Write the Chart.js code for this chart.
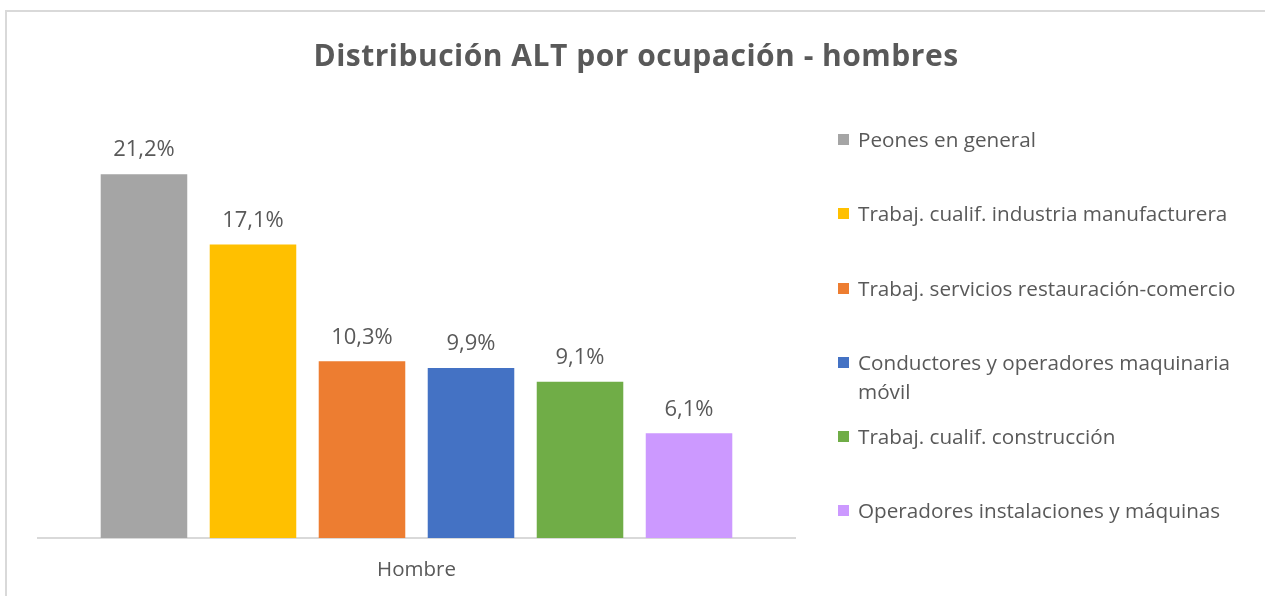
<!DOCTYPE html>
<html>
<head>
<meta charset="utf-8">
<script src="https://cdn.jsdelivr.net/npm/chart.js@4"></script>
<style>
  html, body { margin: 0; padding: 0; background: #fff; overflow: hidden; }
  #wrap { position: relative; width: 1265px; height: 596px; overflow: hidden; }
  #frame { position: absolute; left: 5px; top: 10px; width: 1400px; height: 800px;
           border-left: 2px solid #d9d9d9; border-top: 2px solid #d9d9d9; }
  #chart { position: absolute; left: 0; top: 0; }
  #title { position: absolute; left: 0; width: 1272px; top: 35px; text-align: center;
           font: bold 30px "Open Sans", sans-serif; color: #595959; line-height: 40px;
           letter-spacing: 0.5px; }
  .item { position: absolute; left: 838px; width: 425px; font: 20.7px "Open Sans", sans-serif;
          color: #595959; line-height: 29px; }
  .item .box { position: absolute; left: 0; top: 9px; width: 11px; height: 11px; }
  .item .txt { margin-left: 20px; }
</style>
</head>
<body>
<div id="wrap">
  <div id="frame"></div>
  <canvas id="chart" width="1265" height="596"></canvas>
  <div id="title">Distribución ALT por ocupación - hombres</div>
  <div id="legend"></div>
</div>
<script>
var categories = ['Hombre'];
var seriesNames = [
    'Peones en general',
    'Trabaj. cualif. industria manufacturera',
    'Trabaj. servicios restauración-comercio',
    'Conductores y operadores maquinaria móvil',
    'Trabaj. cualif. construcción',
    'Operadores instalaciones y máquinas'
];
var seriesValues = [21.2, 17.1, 10.3, 9.9, 9.1, 6.1];
var seriesColors = ['#A5A5A5', '#FFC000', '#ED7D31', '#4472C4', '#70AD47', '#CC99FF'];

var datasets = [];
for (var i = 0; i < seriesNames.length; i++) {
    datasets.push({
        label: seriesNames[i],
        data: [seriesValues[i]],
        backgroundColor: seriesColors[i],
        borderWidth: 0,
        barPercentage: 0.794,
        categoryPercentage: 0.864
    });
}

// value labels above each bar
const barLabels = {
    id: 'barLabels',
    afterDatasetsDraw(chart) {
        const ctx = chart.ctx;
        ctx.save();
        ctx.font = '22px "Open Sans", sans-serif';
        ctx.fillStyle = '#595959';
        ctx.textAlign = 'center';
        ctx.textBaseline = 'middle';
        chart.data.datasets.forEach(function (ds, i) {
            chart.getDatasetMeta(i).data.forEach(function (bar, j) {
                var txt = ds.data[j].toFixed(1).replace('.', ',') + '%';
                ctx.fillText(txt, bar.x, bar.y - 24);
            });
        });
        ctx.restore();
    }
};

const ctx = document.getElementById('chart').getContext('2d');
const myChart = new Chart(ctx, {
    type: 'bar',
    data: {
        labels: categories,
        datasets: datasets
    },
    options: {
        responsive: false,
        animation: false,
        layout: { padding: { left: 38, right: 470, top: 109, bottom: 0 } },
        plugins: {
            legend: { display: false },
            title: { display: false },
            tooltip: { enabled: false }
        },
        scales: {
            x: {
                grid: { display: false, drawTicks: false },
                border: { color: '#d9d9d9', width: 2 },
                ticks: { color: '#595959', font: { family: 'Open Sans', size: 20.5 }, padding: 20 },
                afterFit: function (scale) { scale.height = 58; }
            },
            y: {
                display: false,
                min: 0,
                max: 25
            }
        }
    },
    plugins: [barLabels]
});

// legend built from the same arrays
var legend = document.getElementById('legend');
var tops = [125, 199, 274, 348, 422, 496];
for (var k = 0; k < seriesNames.length; k++) {
    var it = document.createElement('div');
    it.className = 'item';
    it.style.top = tops[k] + 'px';
    var name = seriesNames[k];
    if (k === 3) name = 'Conductores y operadores maquinaria<br>móvil';
    it.innerHTML = '<span class="box" style="background:' + seriesColors[k] + '"></span><div class="txt">' + name + '</div>';
    legend.appendChild(it);
}
</script>
</body>
</html>
